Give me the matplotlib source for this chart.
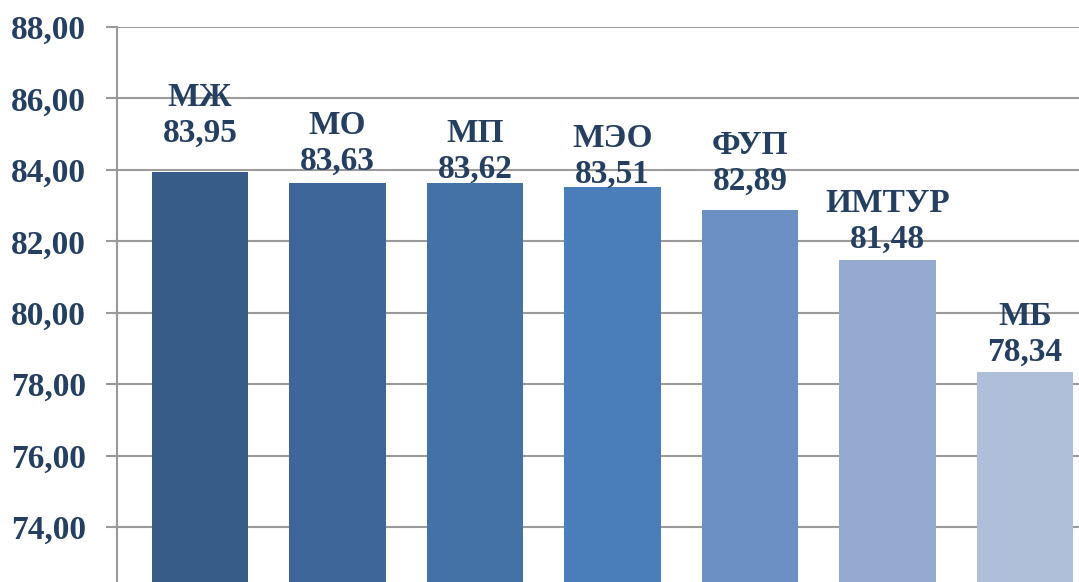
import matplotlib
matplotlib.use("Agg")
import matplotlib.pyplot as plt

categories = ["МЖ", "МО", "МП", "МЭО", "ФУП", "ИМТУР", "МБ"]
values = [83.95, 83.63, 83.62, 83.51, 82.89, 81.48, 78.34]
yticks = [74, 76, 78, 80, 82, 84, 86, 88]

# styling
colors = ["#385C88", "#3F6698", "#4471A6", "#4A7EBB", "#6D90C4", "#95AAD0", "#AFBFDA"]
label_offsets_px = [22.6, 6, -1, -2, 13, 5, 4]
text_color = "#243F60"
grid_color = "#9A9A9A"

W, H = 1079, 582
fig = plt.figure(figsize=(W / 100, H / 100), dpi=100)
ax = fig.add_axes([116.5 / W, 0, 1 - 116.5 / W, (H - 27) / H])

x = list(range(len(categories)))
ax.bar(x, values, width=0.7, color=colors, zorder=3)

ax.set_ylim(72.46, 88)
ax.set_xlim(-0.607, 6.393)
ax.set_yticks(yticks)
ax.set_yticklabels([f"{v:.2f}".replace(".", ",") for v in yticks],
                   fontfamily="Liberation Serif", fontweight="bold",
                   fontsize=24, color=text_color)
ax.tick_params(axis="y", direction="out", length=8, width=1.5,
               color=grid_color, pad=14)
ax.set_xticks([])
ax.grid(axis="y", color=grid_color, linewidth=1.5, zorder=0)
for s in ["top", "right", "bottom"]:
    ax.spines[s].set_visible(False)
ax.spines["left"].set_color(grid_color)
ax.spines["left"].set_linewidth(1.5)

for xi, cat, v, off in zip(x, categories, values, label_offsets_px):
    ax.annotate(f"{cat}\n{v:.2f}".replace(".", ","), xy=(xi, v),
                xytext=(0, off * 0.72), textcoords="offset points",
                ha="center", va="bottom", multialignment="center",
                fontfamily="Liberation Serif", fontweight="bold",
                fontsize=24, color=text_color, zorder=4)

fig.savefig("out.png", dpi=100)
